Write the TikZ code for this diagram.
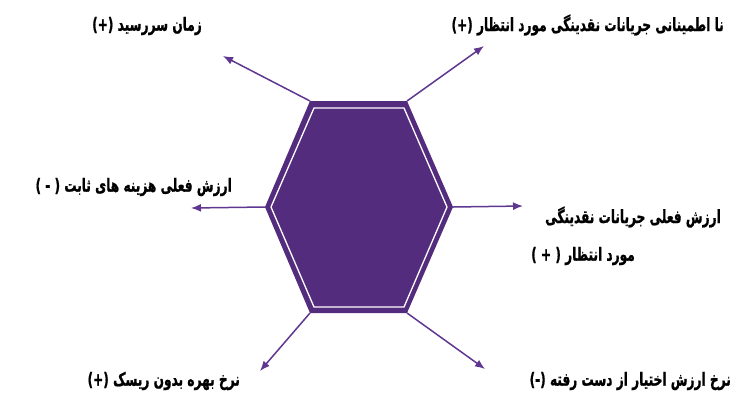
\documentclass[tikz,border=0pt]{standalone}
\usepackage{fontspec}
\usetikzlibrary{arrows.meta}
\TeXXeTstate=1
\newfontfamily\arabicfont[Script=Arabic, BoldFeatures={FakeBold=1.2}]{DejaVu Sans}
\definecolor{hexpurple}{RGB}{84,44,125}
\definecolor{arrowpurple}{RGB}{95,55,145}
\newcommand{\faText}[1]{\scalebox{0.9}[1.35]{\beginR #1\endR}}
\tikzset{
  lbl/.style={inner sep=0pt, font=\arabicfont\bfseries\fontsize{13.5}{16}\selectfont, text=black},
  conn/.style={draw=arrowpurple, line width=1.5pt, -{Latex[length=10pt,width=8pt]}},
}
\begin{document}
\begin{tikzpicture}[x=1pt,y=-1pt]
\useasboundingbox (0,0) rectangle (730,392);
% hexagon vertices
\coordinate (vtl) at (310,101);
\coordinate (vtr) at (407,101);
\coordinate (vr) at (453,207);
\coordinate (vbr) at (407,313);
\coordinate (vbl) at (310,313);
\coordinate (vl) at (265,207);
\fill[hexpurple] (vtl) -- (vtr) -- (vr) -- (vbr) -- (vbl) -- (vl) -- cycle;
\draw[white, line width=1.3pt] (314,108) -- (404,108) -- (447,207) -- (404,307) -- (314,307) -- (271,207) -- cycle;
% arrow tips
\coordinate (ttl) at (223,56);
\coordinate (ttr) at (484,46);
\coordinate (tl) at (191,208);
\coordinate (tr) at (523,206);
\coordinate (tbl) at (260,371);
\coordinate (tbr) at (485,369);
\draw[conn] (vtl) -- (ttl);
\draw[conn] (vtr) -- (ttr);
\draw[conn] (vl) -- (tl);
\draw[conn] (vr) -- (tr);
\draw[conn] (vbl) -- (tbl);
\draw[conn] (vbr) -- (tbr);
% labels
\node[lbl, anchor=east] (l1) at (202,26) {\faText{زمان سررسید (+)}};
\node[lbl, anchor=east] (l2) at (724,25) {\faText{نا اطمینانی جریانات نقدینگی مورد انتظار (+)}};
\node[lbl, anchor=east] (l3) at (232,187) {\faText{ارزش فعلی هزینه های ثابت ( - )}};
\node[lbl, anchor=east] (l4a) at (721,217) {\faText{ارزش فعلی جریانات نقدینگی}};
\node[lbl] (l4b) at (583,256) {\faText{مورد انتظار ( + )}};
\node[lbl, anchor=east] (l5) at (240,381) {\faText{نرخ بهره بدون ریسک (+)}};
\node[lbl, anchor=east] (l6) at (731,381) {\faText{نرخ ارزش اختیار از دست رفته (-)}};
\end{tikzpicture}
\end{document}
